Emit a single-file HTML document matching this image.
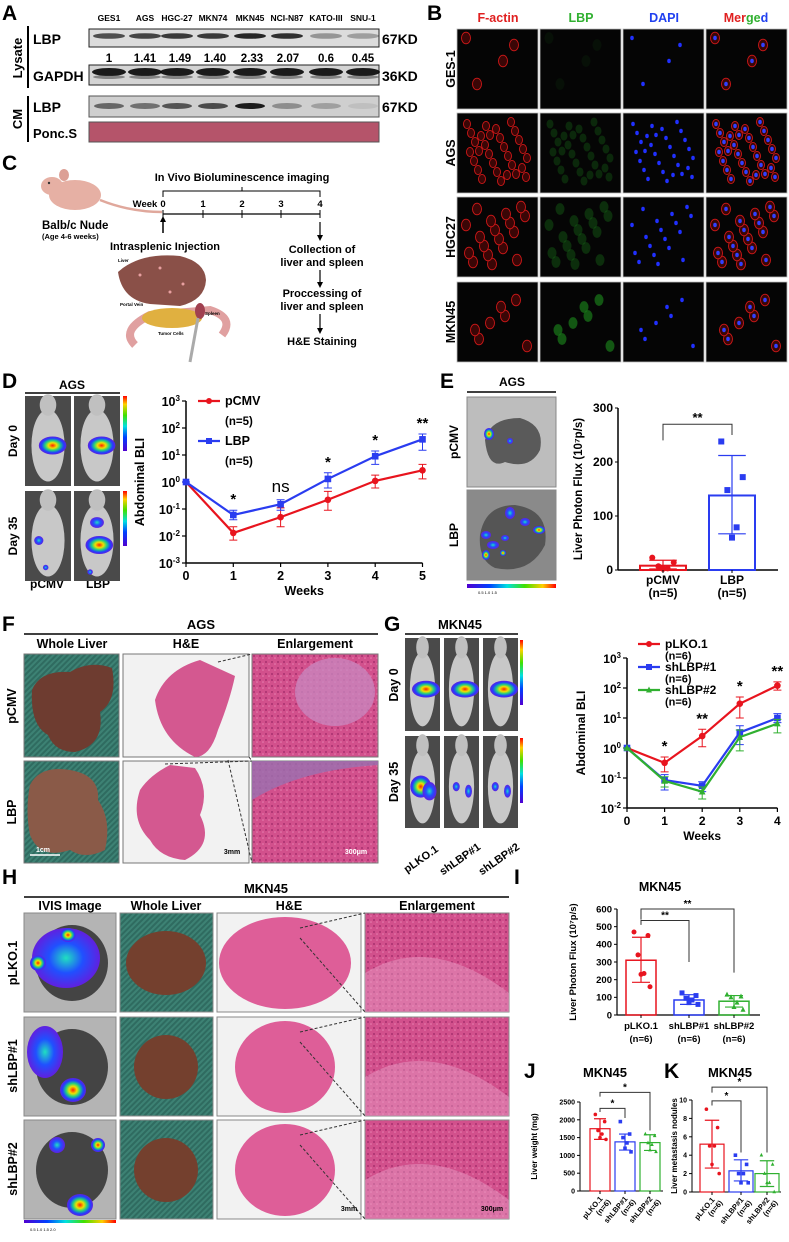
<!DOCTYPE html>
<html><head><meta charset="utf-8"><style>
html,body{margin:0;padding:0;background:#fff;}
svg{display:block;font-family:"Liberation Sans",Arial,sans-serif;}
.b{font-weight:bold;}
</style></head><body>
<svg id="fig" width="789" height="1242" viewBox="0 0 789 1242" xmlns="http://www.w3.org/2000/svg">
<defs>
<pattern id="teal" width="4" height="4" patternUnits="userSpaceOnUse" patternTransform="rotate(45)"><rect width="4" height="4" fill="#2f6b60"/><rect width="2" height="4" fill="#3d8274"/></pattern>
<radialGradient id="hot"><stop offset="0" stop-color="#ff2000"/><stop offset="0.3" stop-color="#f0e000"/><stop offset="0.55" stop-color="#20d080"/><stop offset="0.8" stop-color="#2040ff"/><stop offset="1" stop-color="#6020e0"/></radialGradient>
<radialGradient id="cool"><stop offset="0" stop-color="#20e0c0"/><stop offset="0.5" stop-color="#2050ff"/><stop offset="1" stop-color="#6020e0"/></radialGradient>
<linearGradient id="cbar" x1="0" x2="1"><stop offset="0" stop-color="#5000d0"/><stop offset="0.25" stop-color="#0040ff"/><stop offset="0.45" stop-color="#00e0e0"/><stop offset="0.65" stop-color="#40e000"/><stop offset="0.85" stop-color="#ffd000"/><stop offset="1" stop-color="#ff0000"/></linearGradient>
<linearGradient id="cbarv" x1="0" x2="0" y1="1" y2="0"><stop offset="0" stop-color="#5000d0"/><stop offset="0.25" stop-color="#0040ff"/><stop offset="0.45" stop-color="#00e0e0"/><stop offset="0.65" stop-color="#40e000"/><stop offset="0.85" stop-color="#ffd000"/><stop offset="1" stop-color="#ff0000"/></linearGradient>
<pattern id="he" width="6" height="6" patternUnits="userSpaceOnUse"><rect width="6" height="6" fill="#d2508c"/><circle cx="2" cy="2" r="1" fill="#a8306e"/><circle cx="5" cy="4" r="0.8" fill="#e880b0"/></pattern>
</defs>

<g class="b" font-size="21">
<text x="2" y="20">A</text>
<text x="427" y="20">B</text>
<text x="2" y="170">C</text>
<text x="2" y="388">D</text>
<text x="440" y="388">E</text>
<text x="2" y="631">F</text>
<text x="384" y="631">G</text>
<text x="2" y="884">H</text>
<text x="514" y="884">I</text>
<text x="524" y="1078">J</text>
<text x="664" y="1078">K</text>
</g>

<g id="panelA">
<g font-size="8.5" class="b" text-anchor="middle">
<text x="109" y="21">GES1</text><text x="145" y="21">AGS</text><text x="177" y="21">HGC-27</text><text x="213" y="21">MKN74</text><text x="250" y="21">MKN45</text><text x="287" y="21">NCI-N87</text><text x="326" y="21">KATO-III</text><text x="363" y="21">SNU-1</text>
</g>
<g font-size="11.5" class="b" text-anchor="middle">
<text x="109" y="62">1</text><text x="145" y="62">1.41</text><text x="180" y="62">1.49</text><text x="215" y="62">1.40</text><text x="252" y="62">2.33</text><text x="288" y="62">2.07</text><text x="326" y="62">0.6</text><text x="363" y="62">0.45</text>
</g>
<rect x="89" y="29" width="290" height="18" fill="#dcdcdc" stroke="#222"/>
<rect x="89" y="65" width="290" height="20" fill="#d4d4d4" stroke="#222"/>
<rect x="89" y="96" width="290" height="21" fill="#cfcfcf" stroke="#555"/>
<rect x="89" y="122" width="290" height="20" fill="#b5546a" stroke="#555"/>
<g id="bands"></g>
<line x1="28" y1="26" x2="28" y2="88" stroke="#000" stroke-width="2"/>
<line x1="28" y1="96" x2="28" y2="142" stroke="#000" stroke-width="2"/>
<text transform="translate(22,58) rotate(-90)" text-anchor="middle" font-size="13" class="b">Lysate</text>
<text transform="translate(22,119) rotate(-90)" text-anchor="middle" font-size="13" class="b">CM</text>
<g font-size="14" class="b">
<text x="33" y="44">LBP</text><text x="33" y="81">GAPDH</text><text x="33" y="112">LBP</text><text x="33" y="138" font-size="13">Ponc.S</text>
<text x="382" y="44">67KD</text><text x="382" y="81">36KD</text><text x="382" y="112">67KD</text>
</g>
</g>

<g id="panelB">
<g font-size="12.5" class="b" text-anchor="middle">
<text x="498" y="22" fill="#e02020">F-actin</text><text x="581" y="22" fill="#30b030">LBP</text><text x="664" y="22" fill="#2040f0">DAPI</text>
<text x="746" y="22"><tspan fill="#e02020">Mer</tspan><tspan fill="#30b030">ge</tspan><tspan fill="#2040f0">d</tspan></text>
</g>
<g font-size="12.5" class="b" text-anchor="middle">
<text transform="translate(455,69) rotate(-90)">GES-1</text>
<text transform="translate(455,153) rotate(-90)">AGS</text>
<text transform="translate(455,237) rotate(-90)">HGC27</text>
<text transform="translate(455,322) rotate(-90)">MKN45</text>
</g>
<g id="ifTiles"></g>
</g>

<g id="panelC">
<g>
<ellipse cx="75" cy="195" rx="26" ry="15" fill="#e6b0a4"/>
<ellipse cx="52" cy="186" rx="11" ry="9" fill="#e6b0a4"/>
<ellipse cx="64" cy="175" rx="5" ry="6" fill="#dca096"/>
<path d="M100 200 Q130 212 162 212" stroke="#e0a89c" stroke-width="2.5" fill="none"/>
<circle cx="49" cy="183" r="1.2" fill="#333"/>
</g>
<text x="42" y="229" font-size="11.5" class="b">Balb/c Nude</text>
<text x="42" y="239" font-size="7.5" class="b">(Age 4-6 weeks)</text>
<text x="242" y="181" font-size="11" class="b" text-anchor="middle">In Vivo Bioluminescence imaging</text>
<path d="M163 197 V191 H320 V197 M242 191 V187" stroke="#000" fill="none"/>
<line x1="163" y1="214" x2="320" y2="214" stroke="#000" stroke-width="1.2"/>
<g font-size="9.5" class="b" text-anchor="middle">
<text x="145" y="207">Week</text>
<text x="163" y="207">0</text><text x="203" y="207">1</text><text x="242" y="207">2</text><text x="281" y="207">3</text><text x="320" y="207">4</text>
</g>
<path d="M163 210V218M203 210V218M242 210V218M281 210V218M320 210V218" stroke="#000"/>
<path d="M163 233V220" stroke="#000" stroke-width="1.5"/><path d="M160 222L163 216L166 222Z"/>
<text x="165" y="250" font-size="11" class="b" text-anchor="middle">Intrasplenic Injection</text>
<g>
<path d="M135 345 Q120 330 150 315 L210 310 Q235 318 222 335" stroke="#e0a0a0" stroke-width="8" fill="none"/>
<ellipse cx="172" cy="318" rx="30" ry="10" fill="#e0b040"/>
<path d="M118 272 Q140 252 180 256 Q205 262 206 280 Q205 300 180 306 L150 304 Q122 300 118 272Z" fill="#8a5048"/>
<circle cx="140" cy="275" r="1.5" fill="#e8a0a0"/><circle cx="160" cy="268" r="1.5" fill="#e8a0a0"/><circle cx="183" cy="284" r="1.5" fill="#e8a0a0"/><circle cx="170" cy="292" r="1.5" fill="#e8a0a0"/>
<ellipse cx="200" cy="311" rx="5" ry="8" fill="#a04050"/>
<line x1="198" y1="318" x2="190" y2="362" stroke="#aaa" stroke-width="3"/>
<g font-size="4.5" class="b"><text x="118" y="262">Liver</text><text x="120" y="306">Portal Vein</text><text x="205" y="315">Spleen</text><text x="158" y="335">Tumor Cells</text></g>
</g>
<path d="M320 222V238" stroke="#000" stroke-width="1.2"/><path d="M317 235L320 241L323 235Z"/>
<g font-size="11" class="b" text-anchor="middle">
<text x="322" y="253">Collection of</text><text x="322" y="266">liver and spleen</text>
<text x="322" y="297">Proccessing of</text><text x="322" y="310">liver and spleen</text>
<text x="322" y="345">H&amp;E Staining</text>
</g>
<path d="M320 270V284M320 314V330" stroke="#000" stroke-width="1.2"/><path d="M317 282L320 288L323 282ZM317 328L320 334L323 328Z"/>
</g>

<g id="panelDimg">
<text x="72" y="389" font-size="12" class="b" text-anchor="middle">AGS</text>
<line x1="25" y1="393" x2="120" y2="393" stroke="#000" stroke-width="1.5"/>
<text transform="translate(17,441) rotate(-90)" font-size="12" class="b" text-anchor="middle">Day 0</text>
<text transform="translate(17,536) rotate(-90)" font-size="12" class="b" text-anchor="middle">Day 35</text>
<text x="47" y="588" font-size="12" class="b" text-anchor="middle">pCMV</text>
<text x="98" y="588" font-size="12" class="b" text-anchor="middle">LBP</text>
</g>

<g id="panelEimg">
<text x="512" y="386" font-size="12" class="b" text-anchor="middle">AGS</text>
<line x1="467" y1="392" x2="556" y2="392" stroke="#000" stroke-width="1.5"/>
<text transform="translate(458,442) rotate(-90)" font-size="12" class="b" text-anchor="middle">pCMV</text>
<text transform="translate(458,535) rotate(-90)" font-size="12" class="b" text-anchor="middle">LBP</text>
<rect x="467" y="397" width="89" height="90" fill="#bdbdbd" stroke="#888"/>
<path d="M485 440 Q490 418 520 418 Q545 425 540 450 Q530 470 505 462 Q488 470 485 440Z" fill="#5a5a5a"/>
<ellipse cx="489" cy="434" rx="5" ry="6" fill="url(#hot)"/><ellipse cx="510" cy="441" rx="3" ry="3" fill="url(#cool)"/>
<rect x="467" y="490" width="89" height="90" fill="#8a8a8a" stroke="#888"/>
<path d="M480 535 Q485 505 515 505 Q550 510 545 545 Q530 575 495 568 Q478 560 480 535Z" fill="#555"/>
<ellipse cx="510" cy="513" rx="5" ry="6" fill="url(#cool)"/><ellipse cx="525" cy="522" rx="5" ry="4" fill="url(#cool)"/><ellipse cx="539" cy="530" rx="6" ry="4" fill="url(#hot)"/>
<ellipse cx="486" cy="535" rx="5" ry="4" fill="url(#cool)"/><ellipse cx="493" cy="545" rx="6" ry="4" fill="url(#cool)"/><ellipse cx="486" cy="555" rx="4" ry="5" fill="url(#hot)"/><ellipse cx="503" cy="553" rx="3" ry="3" fill="url(#hot)"/><ellipse cx="505" cy="538" rx="4" ry="3" fill="url(#cool)"/>
<rect x="467" y="584" width="89" height="4" fill="url(#cbar)"/>
<text x="478" y="594" font-size="4">0.5     1.0     1.5</text>
</g>

<g id="panelF">
<text x="201" y="629" font-size="13" class="b" text-anchor="middle">AGS</text>
<line x1="24" y1="634" x2="378" y2="634" stroke="#000" stroke-width="1.5"/>
<g font-size="12.5" class="b" text-anchor="middle"><text x="72" y="648">Whole Liver</text><text x="186" y="648">H&amp;E</text><text x="315" y="648">Enlargement</text></g>
<text transform="translate(16,706) rotate(-90)" font-size="12.5" class="b" text-anchor="middle">pCMV</text>
<text transform="translate(16,812) rotate(-90)" font-size="12.5" class="b" text-anchor="middle">LBP</text>
<rect x="24" y="654" width="95" height="103" fill="url(#teal)" stroke="#777"/>
<path d="M32 690 Q40 670 70 672 Q90 660 112 668 Q118 700 100 712 Q105 745 75 752 Q55 752 48 735 Q30 725 32 690Z" fill="#6e3c30"/>
<rect x="24" y="761" width="95" height="102" fill="url(#teal)" stroke="#777"/>
<path d="M30 785 Q40 765 70 770 Q100 775 98 800 Q112 820 105 850 Q85 860 70 850 Q40 860 30 835 Q25 810 30 785Z" fill="#8a5a48"/>
<line x1="30" y1="855" x2="60" y2="855" stroke="#fff" stroke-width="1.5"/><text x="36" y="852" font-size="7" fill="#fff" class="b">1cm</text>
<rect x="123" y="654" width="126" height="103" fill="#f2f2f2" stroke="#777"/>
<path d="M155 700 Q165 670 200 660 L235 676 Q230 700 218 730 Q210 757 195 757 Q160 740 155 700Z" fill="#d45890"/>
<rect x="123" y="761" width="126" height="102" fill="#f2f2f2" stroke="#777"/>
<path d="M140 790 Q150 775 170 765 L195 768 Q210 790 200 815 Q215 845 185 860 Q160 858 150 840 Q130 820 140 790Z" fill="#d45890"/>
<rect x="252" y="654" width="126" height="103" fill="url(#he)" stroke="#777"/>
<ellipse cx="335" cy="692" rx="40" ry="34" fill="#c888c0" opacity="0.75"/>
<rect x="252" y="761" width="126" height="102" fill="url(#he)" stroke="#777"/>
<path d="M252 800 Q300 770 378 765 L378 761 L252 761Z" fill="#9a70b0" opacity="0.8"/>
<path d="M249 757 L252 761 M218 662 L252 654 M228 760 L252 863 M165 764 L252 761" stroke="#333" stroke-dasharray="3,2" fill="none"/>
<text x="232" y="854" font-size="7" class="b" text-anchor="middle">3mm</text>
<text x="356" y="854" font-size="7" class="b" fill="#fff" text-anchor="middle">300μm</text>
</g>

<g id="panelGimg">
<text x="460" y="629" font-size="13" class="b" text-anchor="middle">MKN45</text>
<line x1="405" y1="634" x2="518" y2="634" stroke="#000" stroke-width="1.5"/>
<text transform="translate(398,685) rotate(-90)" font-size="12.5" class="b" text-anchor="middle">Day 0</text>
<text transform="translate(398,782) rotate(-90)" font-size="12.5" class="b" text-anchor="middle">Day 35</text>
<g font-size="11" class="b" text-anchor="middle">
<text transform="translate(423,862) rotate(-35)">pLKO.1</text>
<text transform="translate(462,862) rotate(-35)">shLBP#1</text>
<text transform="translate(501,862) rotate(-35)">shLBP#2</text>
</g>
</g>

<g id="panelH">
<text x="266" y="893" font-size="13" class="b" text-anchor="middle">MKN45</text>
<line x1="24" y1="897" x2="509" y2="897" stroke="#000" stroke-width="1.5"/>
<g font-size="12.5" class="b" text-anchor="middle"><text x="70" y="910">IVIS Image</text><text x="166" y="910">Whole Liver</text><text x="289" y="910">H&amp;E</text><text x="437" y="910">Enlargement</text></g>
<g font-size="12.5" class="b" text-anchor="middle">
<text transform="translate(17,963) rotate(-90)">pLKO.1</text>
<text transform="translate(17,1066) rotate(-90)">shLBP#1</text>
<text transform="translate(17,1169) rotate(-90)">shLBP#2</text>
</g>
<g id="hTiles"></g>
<rect x="24" y="1220" width="92" height="3" fill="url(#cbar)"/>
<text x="30" y="1231" font-size="4">0.5    1.0    1.5    2.0</text>
</g>

<g id="charts"></g>
</svg>
<script>
const dWeeks = [0, 1, 2, 3, 4, 5];
const dPcmv = [1, 0.013, 0.05, 0.22, 1.1, 2.7];
const dPcmvLo = [1, 0.007, 0.022, 0.09, 0.6, 1.3];
const dPcmvHi = [1, 0.022, 0.11, 0.45, 1.8, 4.5];
const dLbp = [1, 0.06, 0.15, 1.3, 9, 38];
const dLbpLo = [1, 0.04, 0.09, 0.6, 4.5, 15];
const dLbpHi = [1, 0.09, 0.22, 2.2, 14, 60];
const dStars = ['', '*', 'ns', '*', '*', '**'];
const dTickExp = [-3, -2, -1, 0, 1, 2, 3];

const gWeeks = [0, 1, 2, 3, 4];
const gPlko = [1, 0.32, 2.5, 30, 120];
const gPlkoLo = [1, 0.16, 1.1, 10, 85];
const gPlkoHi = [1, 0.5, 4.2, 50, 160];
const gSh1 = [1, 0.085, 0.055, 3.3, 10];
const gSh1Lo = [1, 0.04, 0.035, 1.3, 7];
const gSh1Hi = [1, 0.13, 0.075, 5.5, 14];
const gSh2 = [1, 0.08, 0.035, 2.3, 6.5];
const gSh2Lo = [1, 0.05, 0.02, 0.8, 3.2];
const gSh2Hi = [1, 0.11, 0.05, 4, 9];
const gStars = ['', '*', '**', '*', '**'];
const gTickExp = [-2, -1, 0, 1, 2, 3];

const eCats = ['pCMV', 'LBP'];
const eMeans = [8, 138];
const eLo = [2, 67];
const eHi = [18, 212];
const ePtsPcmv = [23, 14, 7, 3, 2];
const ePtsLbp = [238, 172, 148, 79, 60];
const eTicks = [0, 100, 200, 300];

const iCats = ['pLKO.1', 'shLBP#1', 'shLBP#2'];
const iMeans = [310, 85, 78];
const iLo = [185, 60, 45];
const iHi = [440, 115, 110];
const iPtsPlko = [470, 450, 340, 235, 230, 160];
const iPtsSh1 = [125, 110, 95, 85, 70, 60];
const iPtsSh2 = [115, 105, 100, 70, 45, 30];
const iTicks = [0, 100, 200, 300, 400, 500, 600];

const jMeans = [1750, 1380, 1360];
const jLo = [1450, 1150, 1140];
const jHi = [2030, 1600, 1580];
const jPtsPlko = [2150, 1950, 1700, 1600, 1500, 1450];
const jPtsSh1 = [1950, 1600, 1500, 1350, 1200, 1100];
const jPtsSh2 = [1600, 1550, 1350, 1300, 1150, 1100];
const jTicks = [0, 500, 1000, 1500, 2000, 2500];

const kMeans = [5.2, 2.3, 2.0];
const kLo = [2.6, 1.2, 0.6];
const kHi = [7.8, 3.5, 3.4];
const kPtsPlko = [9, 7, 5, 5, 3, 2];
const kPtsSh1 = [4, 3, 2, 2, 1, 1];
const kPtsSh2 = [4, 3, 2, 1, 1, 0];
const kTicks = [0, 2, 4, 6, 8, 10];

const NS = 'http://www.w3.org/2000/svg';
const root = document.getElementById('charts');
function mk(tag, attrs, name, parent) {
  const el = document.createElementNS(NS, tag);
  for (const k in attrs) el.setAttribute(k, attrs[k]);
  
  
  (parent || root).appendChild(el);
  return el;
}
function txt(x, y, s, size, anchor, name, parent, extra) {
  const a = Object.assign({x: x, y: y, 'font-size': size, 'text-anchor': anchor || 'middle', 'font-weight': 'bold'}, extra || {});
  const t = mk('text', a, name, parent);
  t.textContent = s;
  return t;
}
function marker(shape, x, y, r, color, name, g) {
  if (shape === 'circle') return mk('circle', {cx: x, cy: y, r: r, fill: color}, name, g);
  if (shape === 'square') return mk('rect', {x: x - r, y: y - r, width: 2 * r, height: 2 * r, fill: color}, name, g);
  return mk('path', {d: `M${x} ${y - r - 0.5}L${x + r} ${y + r - 0.5}L${x - r} ${y + r - 0.5}Z`, fill: color}, name, g);
}
function supTick(x, y, e, size, g) {
  const t = mk('text', {x: x, y: y, 'font-size': size, 'text-anchor': 'end', 'font-weight': 'bold'}, 'y-tick-label', g);
  t.textContent = '10';
  const s = document.createElementNS(NS, 'tspan');
  s.setAttribute('dy', -size * 0.4);
  s.setAttribute('font-size', size * 0.65);
  s.textContent = String(e);
  t.appendChild(s);
}

function lineChart(c) {
  const g = mk('g', {}, c.name);
  const X = w => c.x0 + w * c.dx;
  const Y = v => c.yBot - (Math.log10(v) - c.minExp) * c.per;
  const top = Y(Math.pow(10, c.tickExp[c.tickExp.length - 1]));
  mk('line', {x1: c.x0, y1: top, x2: c.x0, y2: c.yBot, stroke: '#000', 'stroke-width': 1.5}, 'y-axis', g);
  mk('line', {x1: c.x0, y1: c.yBot, x2: X(c.weeks[c.weeks.length - 1]), y2: c.yBot, stroke: '#000', 'stroke-width': 1.5}, 'x-axis', g);
  c.tickExp.forEach(e => {
    const y = Y(Math.pow(10, e));
    mk('line', {x1: c.x0 - 4, y1: y, x2: c.x0, y2: y, stroke: '#000', 'stroke-width': 1.2}, 'y-tick', g);
    supTick(c.x0 - 6, y + 5, e, c.fs, g);
  });
  c.weeks.forEach(w => {
    mk('line', {x1: X(w), y1: c.yBot, x2: X(w), y2: c.yBot + 4, stroke: '#000', 'stroke-width': 1.2}, 'x-tick', g);
    txt(X(w), c.yBot + 17, String(w), c.fs, 'middle', 'x-tick-label', g);
  });
  txt((c.x0 + X(c.weeks[c.weeks.length - 1])) / 2, c.yBot + 32, 'Weeks', c.fs, 'middle', 'x-axis-title', g);
  txt(0, 0, 'Abdominal BLI', c.fs, 'middle', 'y-axis-title', g, {transform: `translate(${c.yLabX},${(top + c.yBot) / 2}) rotate(-90)`});
  c.series.forEach(s => {
    const pts = c.weeks.map((w, i) => `${X(w)},${Y(s.v[i])}`).join(' ');
    s.v.forEach((v, i) => {
      const x = X(c.weeks[i]), y1 = Y(s.lo[i]), y2 = Y(s.hi[i]);
      mk('path', {d: `M${x} ${y1}V${y2}M${x - 4} ${y1}H${x + 4}M${x - 4} ${y2}H${x + 4}`, stroke: s.color, 'stroke-width': 1, fill: 'none'}, 'error-bar', g);
    });
    mk('polyline', {points: pts, fill: 'none', stroke: s.color, 'stroke-width': 2.2}, 'series-line-' + s.key, g);
    s.v.forEach((v, i) => marker(s.shape, X(c.weeks[i]), Y(v), 3.3, s.color, 'point-' + s.key, g));
  });
  c.stars.forEach((st, i) => {
    if (!st) return;
    const hi = Math.max(...c.series.map(s => s.hi[i]));
    const ns = st === 'ns';
    txt(X(c.weeks[i]), Y(hi) - (ns ? 8 : 6), st, ns ? 17 : 15, 'middle', 'significance-label', g, {'font-weight': ns ? 'normal' : 'bold'});
  });
  c.series.forEach((s, k) => {
    const ly = c.legY + k * c.legDy;
    mk('line', {x1: c.legX, y1: ly, x2: c.legX + 22, y2: ly, stroke: s.color, 'stroke-width': 2.2}, 'legend-line', g);
    marker(s.shape, c.legX + 11, ly, 3, s.color, 'legend-marker', g);
    txt(c.legX + 27, ly + 4, s.label, c.fs, 'start', 'legend-entry', g);
    txt(c.legX + 27, ly + 4 + c.legDy / 2, '(n=' + s.n + ')', c.fs - 1, 'start', 'legend-n', g);
  });
}
lineChart({name: 'ags-bli-chart', x0: 186, dx: 47.3, yBot: 563, minExp: -3, per: 27, tickExp: dTickExp, weeks: dWeeks,
  fs: 12.5, yLabX: 144, stars: dStars, legX: 198, legY: 401, legDy: 40,
  series: [{key: 'pcmv', label: 'pCMV', n: 5, v: dPcmv, lo: dPcmvLo, hi: dPcmvHi, color: '#e8141e', shape: 'circle'},
           {key: 'lbp', label: 'LBP', n: 5, v: dLbp, lo: dLbpLo, hi: dLbpHi, color: '#2a3cf0', shape: 'square'}]});
lineChart({name: 'mkn45-bli-chart', x0: 627, dx: 37.6, yBot: 808, minExp: -2, per: 30, tickExp: gTickExp, weeks: gWeeks,
  fs: 12, yLabX: 585, stars: gStars, legX: 638, legY: 644, legDy: 23,
  series: [{key: 'plko', label: 'pLKO.1', n: 6, v: gPlko, lo: gPlkoLo, hi: gPlkoHi, color: '#e8141e', shape: 'circle'},
           {key: 'sh1', label: 'shLBP#1', n: 6, v: gSh1, lo: gSh1Lo, hi: gSh1Hi, color: '#2a3cf0', shape: 'square'},
           {key: 'sh2', label: 'shLBP#2', n: 6, v: gSh2, lo: gSh2Lo, hi: gSh2Hi, color: '#30b030', shape: 'tri'}]});

const jit = [-7, 7, -3, 3, 0, 9];
function barChart(c) {
  const g = mk('g', {}, c.name);
  const Y = v => c.y0 - v * c.scale;
  const yTop = Y(c.ticks[c.ticks.length - 1]);
  mk('line', {x1: c.x0, y1: yTop, x2: c.x0, y2: c.y0, stroke: '#000', 'stroke-width': c.axW}, 'y-axis', g);
  mk('line', {x1: c.x0, y1: c.y0, x2: c.xEnd, y2: c.y0, stroke: '#000', 'stroke-width': c.axW}, 'x-axis', g);
  c.ticks.forEach(t => {
    mk('line', {x1: c.x0 - 3, y1: Y(t), x2: c.x0, y2: Y(t), stroke: '#000'}, 'y-tick', g);
    txt(c.x0 - 5, Y(t) + c.tfs * 0.35, String(t), c.tfs, 'end', 'y-tick-label', g);
  });
  c.means.forEach((m, i) => {
    const cx = c.cx[i], col = c.colors[i];
    mk('rect', {x: cx - c.bw / 2, y: Y(m), width: c.bw, height: c.y0 - Y(m), fill: 'none', stroke: col, 'stroke-width': c.bsw}, 'bar-' + c.cats[i].replace(/[^a-z0-9]/gi, '').toLowerCase(), g);
    mk('path', {d: `M${cx} ${Y(c.lo[i])}V${Y(c.hi[i])}M${cx - c.bw * 0.3} ${Y(c.lo[i])}H${cx + c.bw * 0.3}M${cx - c.bw * 0.3} ${Y(c.hi[i])}H${cx + c.bw * 0.3}`, stroke: col, 'stroke-width': 1.2, fill: 'none'}, 'error-bar', g);
    c.pts[i].forEach((p, k) => marker(c.shapes[i], cx + jit[k] * c.bw / 30, Y(p), c.mr, col, 'data-point', g));
    mk('line', {x1: cx, y1: c.y0, x2: cx, y2: c.y0 + 3, stroke: '#000'}, 'x-tick', g);
    if (c.rotLabels) {
      txt(0, 0, c.cats[i], c.xfs, 'end', 'x-tick-label', g, {transform: `translate(${cx + 3},${c.y0 + 8}) rotate(-50)`});
      txt(0, 0, '(n=' + c.n + ')', c.xfs, 'end', 'x-tick-n', g, {transform: `translate(${cx + 11},${c.y0 + 11}) rotate(-50)`});
    } else {
      txt(cx, c.y0 + 14, c.cats[i], c.xfs, 'middle', 'x-tick-label', g);
      txt(cx, c.y0 + 27, '(n=' + c.n + ')', c.xfs, 'middle', 'x-tick-n', g);
    }
  });
  c.brackets.forEach(b => {
    const x1 = c.cx[b.a], x2 = c.cx[b.b], yb = Y(b.y);
    mk('path', {d: `M${x1} ${Y(b.d1)}V${yb}H${x2}V${Y(b.d2)}`, stroke: '#333', 'stroke-width': 1, fill: 'none'}, 'significance-bracket', g);
    txt((x1 + x2) / 2, yb - 2, b.s, c.sfs, 'middle', 'significance-label', g);
  });
  if (c.title) txt(c.title[0], c.title[1], c.title[2], c.title[3], 'middle', 'chart-title', g);
  txt(0, 0, c.ylabel, c.yfs, 'middle', 'y-axis-title', g, {transform: `translate(${c.yLabX},${(yTop + c.y0) / 2}) rotate(-90)`});
}
barChart({name: 'ags-liver-flux-chart', x0: 618, xEnd: 778, y0: 570, scale: 162 / 300, ticks: eTicks, cats: eCats, n: 5,
  means: eMeans, lo: eLo, hi: eHi, pts: [ePtsPcmv, ePtsLbp], cx: [663, 732], bw: 46, bsw: 2, axW: 1.5, mr: 3,
  colors: ['#e8141e', '#2a3cf0'], shapes: ['circle', 'square'], tfs: 12, xfs: 12, sfs: 13, yfs: 11.5, yLabX: 582,
  brackets: [{a: 0, b: 1, y: 270, d1: 240, d2: 250, s: '**'}], ylabel: 'Liver Photon Flux (10\u2077p/s)'});
barChart({name: 'mkn45-liver-flux-chart', x0: 617, xEnd: 760, y0: 1015, scale: 106 / 600, ticks: iTicks, cats: iCats, n: 6,
  means: iMeans, lo: iLo, hi: iHi, pts: [iPtsPlko, iPtsSh1, iPtsSh2], cx: [641, 689, 734], bw: 30, bsw: 1.5, axW: 1.2, mr: 2.5,
  colors: ['#e8141e', '#2a3cf0', '#30b030'], shapes: ['circle', 'square', 'tri'], tfs: 9.5, xfs: 9.5, sfs: 10, yfs: 9.5, yLabX: 576,
  brackets: [{a: 0, b: 1, y: 535, d1: 510, d2: 300, s: '**'}, {a: 0, b: 2, y: 600, d1: 540, d2: 240, s: '**'}],
  title: [660, 891, 'MKN45', 12.5], ylabel: 'Liver Photon Flux (10\u2077p/s)'});
barChart({name: 'mkn45-liver-weight-chart', x0: 580, xEnd: 663, y0: 1191, scale: 89 / 2500, ticks: jTicks, cats: iCats, n: 6,
  means: jMeans, lo: jLo, hi: jHi, pts: [jPtsPlko, jPtsSh1, jPtsSh2], cx: [600, 625, 650], bw: 20, bsw: 1.2, axW: 1, mr: 1.8,
  colors: ['#e8141e', '#2a3cf0', '#30b030'], shapes: ['circle', 'square', 'tri'], tfs: 7, xfs: 7.5, sfs: 10, yfs: 8, yLabX: 537, rotLabels: true,
  brackets: [{a: 0, b: 1, y: 2320, d1: 2220, d2: 2050, s: '*'}, {a: 0, b: 2, y: 2770, d1: 2650, d2: 1700, s: '*'}],
  title: [605, 1077, 'MKN45', 13], ylabel: 'Liver weight (mg)'});
barChart({name: 'mkn45-metastasis-nodules-chart', x0: 692, xEnd: 781, y0: 1192, scale: 92 / 10, ticks: kTicks, cats: iCats, n: 6,
  means: kMeans, lo: kLo, hi: kHi, pts: [kPtsPlko, kPtsSh1, kPtsSh2], cx: [712, 741, 767], bw: 24, bsw: 1.2, axW: 1, mr: 1.8,
  colors: ['#e8141e', '#2a3cf0', '#30b030'], shapes: ['circle', 'square', 'tri'], tfs: 7, xfs: 7.5, sfs: 10, yfs: 8, yLabX: 677, rotLabels: true,
  brackets: [{a: 0, b: 1, y: 9.9, d1: 9.4, d2: 4.3, s: '*'}, {a: 0, b: 2, y: 11.4, d1: 10.8, d2: 4.3, s: '*'}],
  title: [730, 1077, 'MKN45', 13], ylabel: 'Liver metastasis nodules'});

const bandsG = document.getElementById('bands');
const laneX = [109, 145, 177, 213, 250, 287, 326, 363];
const lysInt = [0.7, 0.75, 0.8, 0.8, 0.9, 0.85, 0.35, 0.3];
const cmInt = [0.55, 0.5, 0.65, 0.7, 0.95, 0.35, 0.25, 0.08];
laneX.forEach((x, i) => {
  mk('ellipse', {cx: x, cy: 36, rx: 16, ry: 2.8, fill: '#111', opacity: lysInt[i]}, 'lbp-band', bandsG);
  mk('ellipse', {cx: x, cy: 72, rx: 17, ry: 4, fill: '#050505', opacity: 0.9}, 'gapdh-band', bandsG);
  mk('ellipse', {cx: x, cy: 77, rx: 16, ry: 2, fill: '#333', opacity: 0.5}, 'gapdh-band-lower', bandsG);
  mk('ellipse', {cx: x, cy: 106, rx: 15, ry: 3, fill: '#111', opacity: cmInt[i]}, 'cm-lbp-band', bandsG);
});
const ifG = document.getElementById('ifTiles');
const ifCols = [457, 540, 623, 706];
const ifRows = [29, 113, 197, 282];
const cellCounts = [4, 30, 18, 7];
const lbpOp = [0.1, 0.3, 0.35, 0.7];
ifRows.forEach((ry, r) => {
  ifCols.forEach((cx, c) => {
    mk('rect', {x: cx, y: ry, width: 81, height: 80, fill: '#050505', stroke: '#bbb', 'stroke-width': 0.8}, 'if-image-tile', ifG);
    for (let k = 0; k < cellCounts[r]; k++) {
      const px = cx + 9 + ((k * 37 + r * 13) % 63), py = ry + 9 + ((k * 23 + r * 29) % 62);
      if (c === 2) { mk('ellipse', {cx: px, cy: py, rx: 1.8, ry: 2.2, fill: '#2030ff'}, 'nucleus', ifG); continue; }
      const rr = r === 1 ? 3.5 : 4.5;
      mk('ellipse', {cx: px, cy: py, rx: rr, ry: rr * 1.3, fill: c === 1 ? '#1a7a1a' : '#3a0606', opacity: c === 1 ? lbpOp[r] : 1, stroke: c === 1 ? 'none' : '#d01818', 'stroke-width': 0.9}, 'cell', ifG);
      if (c === 3) mk('ellipse', {cx: px, cy: py, rx: 1.8, ry: 2.2, fill: '#3040ff'}, 'nucleus', ifG);
    }
  });
});
function mouseTile(x, y, w, h, spots, g, dark) {
  mk('rect', {x: x, y: y, width: w, height: h, fill: dark ? '#3a3a3a' : '#4a4a4a'}, 'bli-image', g);
  mk('ellipse', {cx: x + w / 2, cy: y + h * 0.55, rx: w * 0.36, ry: h * 0.4, fill: '#c8c8c8'}, 'mouse-body', g);
  mk('ellipse', {cx: x + w / 2, cy: y + h * 0.1, rx: w * 0.18, ry: h * 0.12, fill: '#c0c0c0'}, 'mouse-head', g);
  spots.forEach(s => mk('ellipse', {cx: x + s[0] * w, cy: y + s[1] * h, rx: s[2] * w, ry: s[3] * h, fill: s[4] ? 'url(#hot)' : 'url(#cool)'}, 'bli-signal', g));
}
const dImg = document.getElementById('panelDimg');
mouseTile(25, 396, 46, 90, [[0.6, 0.55, 0.3, 0.1, 1]], dImg);
mouseTile(74, 396, 46, 90, [[0.6, 0.55, 0.3, 0.1, 1]], dImg);
mouseTile(25, 491, 46, 90, [[0.3, 0.55, 0.1, 0.05, 0], [0.45, 0.85, 0.06, 0.03, 0]], dImg);
mouseTile(74, 491, 46, 90, [[0.5, 0.35, 0.15, 0.06, 0], [0.55, 0.6, 0.3, 0.1, 1], [0.35, 0.9, 0.06, 0.03, 0]], dImg);
mk('rect', {x: 123, y: 396, width: 4, height: 55, fill: 'url(#cbarv)'}, 'colorbar', dImg);
mk('rect', {x: 123, y: 491, width: 4, height: 55, fill: 'url(#cbarv)'}, 'colorbar', dImg);
const gImg = document.getElementById('panelGimg');
[405, 444, 483].forEach((x, i) => {
  mouseTile(x, 638, 35, 93, [[0.6, 0.55, 0.4, 0.09, 1]], gImg);
  const sp = i === 0 ? [[0.45, 0.55, 0.3, 0.12, 1], [0.7, 0.6, 0.2, 0.1, 0]] : [[0.35, 0.55, 0.1, 0.05, 0], [0.7, 0.6, 0.1, 0.07, 0]];
  mouseTile(x, 736, 35, 92, sp, gImg);
});
mk('rect', {x: 520, y: 640, width: 3, height: 65, fill: 'url(#cbarv)'}, 'colorbar', gImg);
mk('rect', {x: 520, y: 738, width: 3, height: 65, fill: 'url(#cbarv)'}, 'colorbar', gImg);
const hG = document.getElementById('hTiles');
const hRows = [913, 1017, 1120];
hRows.forEach((y, r) => {
  mk('rect', {x: 24, y: y, width: 92, height: 99, fill: '#b4b4b4', stroke: '#888'}, 'ivis-liver-image', hG);
  mk('ellipse', {cx: 72, cy: y + 50, rx: 36, ry: 38, fill: '#444'}, 'liver-silhouette', hG);
  if (r === 0) { mk('ellipse', {cx: 66, cy: y + 45, rx: 34, ry: 30, fill: 'url(#cool)'}, 'ivis-signal', hG); mk('ellipse', {cx: 38, cy: y + 50, rx: 8, ry: 8, fill: 'url(#hot)'}, 'ivis-signal', hG); mk('ellipse', {cx: 68, cy: y + 22, rx: 8, ry: 7, fill: 'url(#hot)'}, 'ivis-signal', hG); }
  if (r === 1) { mk('ellipse', {cx: 45, cy: y + 35, rx: 18, ry: 26, fill: 'url(#cool)'}, 'ivis-signal', hG); mk('ellipse', {cx: 73, cy: y + 73, rx: 13, ry: 12, fill: 'url(#hot)'}, 'ivis-signal', hG); }
  if (r === 2) { mk('ellipse', {cx: 80, cy: y + 85, rx: 13, ry: 11, fill: 'url(#hot)'}, 'ivis-signal', hG); mk('ellipse', {cx: 57, cy: y + 25, rx: 8, ry: 8, fill: 'url(#cool)'}, 'ivis-signal', hG); mk('ellipse', {cx: 98, cy: y + 25, rx: 7, ry: 7, fill: 'url(#hot)'}, 'ivis-signal', hG); }
  mk('rect', {x: 120, y: y, width: 93, height: 99, fill: 'url(#teal)', stroke: '#888'}, 'whole-liver-photo', hG);
  mk('ellipse', {cx: 166, cy: y + 50, rx: r === 0 ? 40 : 32, ry: 32, fill: '#74402e'}, 'liver-specimen', hG);
  mk('rect', {x: 217, y: y, width: 144, height: 99, fill: '#f2f2f2', stroke: '#888'}, 'he-section', hG);
  mk('ellipse', {cx: 285, cy: y + 50, rx: r === 0 ? 66 : 50, ry: 46, fill: '#de5e98'}, 'he-tissue', hG);
  mk('rect', {x: 365, y: y, width: 144, height: 99, fill: 'url(#he)', stroke: '#888'}, 'enlargement-image', hG);
  mk('path', {d: `M365 ${y + 60} Q430 ${y + 20} 509 ${y + 80} L509 ${y + 99} L365 ${y + 99}Z`, fill: '#e8a0c8', opacity: 0.45}, 'tumor-region', hG);
  mk('path', {d: `M300 ${y + 15} L365 ${y} M300 ${y + 25} L365 ${y + 99}`, stroke: '#333', 'stroke-dasharray': '3,2', fill: 'none'}, 'zoom-guide', hG);
});
txt(349, 1211, '3mm', 7, 'middle', 'scale-bar-label', hG);
txt(492, 1211, '300μm', 7, 'middle', 'scale-bar-label', hG);
</script>
</body></html>
